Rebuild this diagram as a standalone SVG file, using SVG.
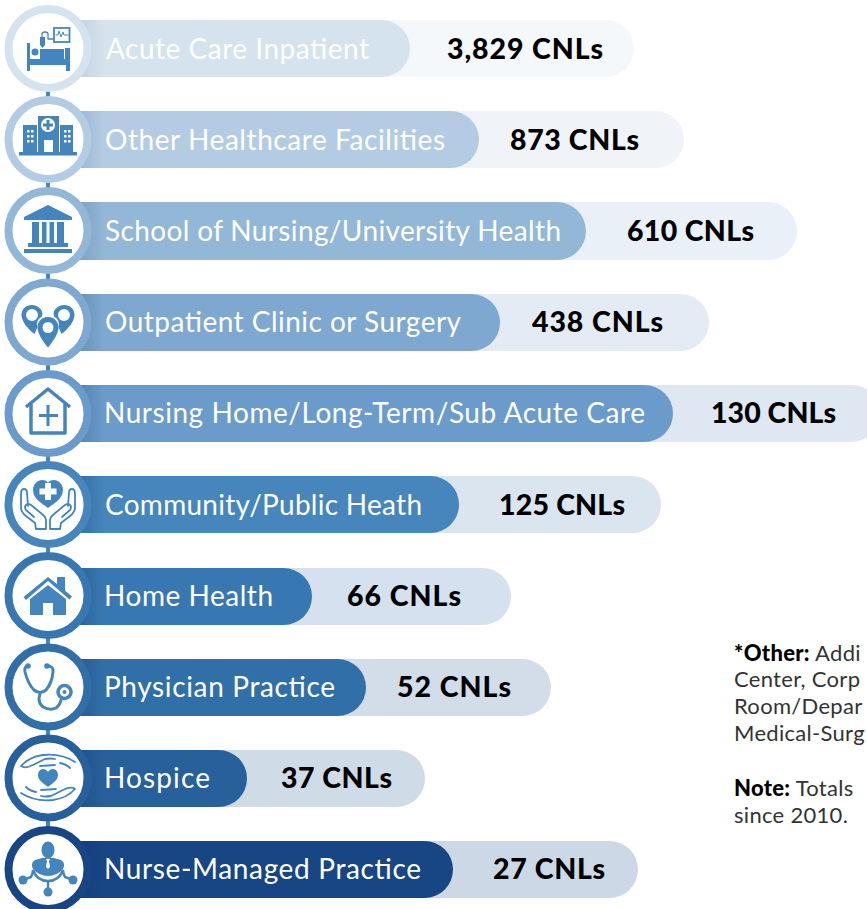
<svg xmlns="http://www.w3.org/2000/svg" width="867" height="909" viewBox="0 0 867 909">
<style>
text{font-family:"Lato","Liberation Sans",sans-serif}
.l{font-size:28px;fill:#fff}
.v{font-size:28.500px;font-weight:900;fill:#000}
.n{font-size:22px;fill:#333;letter-spacing:.3px}
.i{fill:#4585bd}
.o{fill:none;stroke:#4585bd;stroke-width:2.4;stroke-linecap:round;stroke-linejoin:round}
.w{fill:#fff}
.ring{fill:#fff;stroke-width:8}
.sh{fill:url(#s)}
</style>
<defs>
<linearGradient id="s"><stop offset="0" stop-color="#0b2a55" stop-opacity=".25"/><stop offset="1" stop-color="#0b2a55" stop-opacity="0"/></linearGradient>
</defs>
<rect width="867" height="909" fill="#fff"/>
<g id="connectors" fill="#4585bd">
<rect x="46" y="90" width="4" height="8"/><rect x="46" y="181" width="4" height="8"/><rect x="46" y="272" width="4" height="8"/><rect x="46" y="363" width="4" height="8"/><rect x="46" y="455" width="4" height="8"/><rect x="46" y="546" width="4" height="8"/><rect x="46" y="637" width="4" height="8"/><rect x="46" y="728" width="4" height="8"/><rect x="46" y="820" width="4" height="8"/>
</g>
<g id="n1">
<rect x="50" y="20" width="584" height="57" rx="28.500" fill="#f5f8fb"/><path d="M70 20H381.500a28.500 28.500 0 0 1 0 57H70z" fill="#d5e3ef"/><rect x="80" y="20" width="24" height="57" class="sh" opacity=".35"/>
<circle cx="48" cy="48.500" r="39.500" class="ring" stroke="#d5e3ef"/>
<path class="i" d="M27 43h3v16h35V48h5v23h-4v-6H30v6h-3z"/><circle class="i" cx="35" cy="52" r="3.500"/><rect class="i" x="40" y="49" width="24" height="10"/><path class="i" d="M40 37h5v8l-2.500 3-2.500-3z"/><path class="o" style="stroke-width:1.300" d="M42 37v-3q0-2 3-2t3 2v5h5"/><rect x="54" y="28" width="15.500" height="14" fill="none" stroke="#4585bd" stroke-width="1.800"/><path class="o" style="stroke-width:1" d="M56 35h2l1-4 2 6 2-5 1 3h4"/>
<text class="l" x="106" y="59" textLength="263">Acute Care Inpatient</text><text class="v" x="447" y="59" textLength="156">3,829 CNLs</text>
</g>
<g id="n2">
<rect x="50" y="111" width="634" height="57" rx="28.500" fill="#f0f4f9"/><path d="M70 111H450.500a28.500 28.500 0 0 1 0 57H70z" fill="#b3cce3"/><rect x="80" y="111" width="24" height="57" class="sh" opacity=".5"/>
<circle cx="48" cy="139.500" r="39.500" class="ring" stroke="#b3cce3"/>
<path class="i" d="M19 152h58v3.500H19zM23 125h14v27H23zM60 125h13v27H60zM38 116h21v36H38z"/><circle cx="48" cy="125" r="7" class="w"/><path class="i" d="M46.500 120h3v3.500H53v3h-3.500V130h-3v-3.500H43v-3h3.500z"/><rect x="44" y="140" width="9" height="12" class="w"/>
<path class="w" d="M27 130h2.500v2.500H27zM31 130h2.500v2.500H31zM27 135h2.500v2.500H27zM31 135h2.500v2.500H31zM27 140h2.500v2.500H27zM31 140h2.500v2.500H31zM64 130h2.500v2.500H64zM68 130h2.500v2.500H68zM64 135h2.500v2.500H64zM68 135h2.500v2.500H68zM64 140h2.500v2.500H64zM68 140h2.500v2.500H68z"/>
<text class="l" x="105" y="150" textLength="340">Other Healthcare Facilities</text><text class="v" x="510" y="150" textLength="129">873 CNLs</text>
</g>
<g id="n3">
<rect x="50" y="202" width="747" height="58" rx="29" fill="#e9f0f7"/><path d="M70 202H557a29 29 0 0 1 0 58H70z" fill="#93b7d7"/><rect x="80" y="202" width="24" height="58" class="sh" opacity=".6"/>
<circle cx="48" cy="230.500" r="39.500" class="ring" stroke="#93b7d7"/>
<path class="i" d="M48 205l24 12v3H24v-3zM32 222h7v24h-7zM42 222h4.500v24H42zM49.500 222h4.500v24h-4.500zM57 222h7v24h-7zM28 243h40v4H28zM24 249h48v4H24z"/>
<text class="l" x="105" y="241" textLength="456">School of Nursing/University Health</text><text class="v" x="627" y="241" textLength="127">610 CNLs</text>
</g>
<g id="n4">
<rect x="50" y="294" width="659" height="57" rx="28.500" fill="#e3ebf4"/><path d="M70 294H471.500a28.500 28.500 0 0 1 0 57H70z" fill="#7ea8cf"/><rect x="80" y="294" width="24" height="57" class="sh" opacity=".7"/>
<circle cx="48" cy="322" r="39.500" class="ring" stroke="#7ea8cf"/>
<path class="i" fill-rule="evenodd" d="M32 305c-6 0-10.500 4-10.500 10 0 6 6 14 13 19l3-7c-1-4 0-8 4-10l1-3c0-5-5.500-9-10.500-9zm0 4a6 6 0 1 1 0 12 6 6 0 0 1 0-12zM64 305c6 0 10.500 4 10.500 10 0 6-6 14-13 19l-3-7c1-4 0-8-4-10l-1-3c0-5 5.500-9 10.500-9zm0 4a6 6 0 1 0 0 12 6 6 0 0 0 0-12z"/>
<path class="i" fill-rule="evenodd" d="M48 317c-6.500 0-10.500 5-10.500 10.500 0 6 6 15 10.500 20 4.500-5 10.500-14 10.500-20 0-5.500-4-10.500-10.500-10.500zm0 5a5.500 5.500 0 1 1 0 11 5.500 5.500 0 0 1 0-11z"/>
<text class="l" x="105" y="332" textLength="356">Outpatient Clinic or Surgery</text><text class="v" x="532" y="332" textLength="131">438 CNLs</text>
</g>
<g id="n5">
<rect x="50" y="385" width="830" height="57" rx="28.500" fill="#dfe8f2"/><path d="M70 385H644.500a28.500 28.500 0 0 1 0 57H70z" fill="#6a9bca"/><rect x="80" y="385" width="24" height="57" class="sh" opacity=".8"/>
<circle cx="48" cy="413.500" r="39.500" class="ring" stroke="#6a9bca"/>
<path fill="none" stroke="#4585bd" stroke-width="3.500" stroke-linejoin="round" d="M26 407l22-18 22 18M31 403v30h34v-30"/><path class="i" d="M46.500 405h3v9H58v3h-8.500v9h-3v-9H39v-3h7.500z"/>
<text class="l" x="104" y="423" textLength="541">Nursing Home/Long-Term/Sub Acute Care</text><text class="v" x="711" y="423" textLength="125">130 CNLs</text>
</g>
<g id="n6">
<rect x="50" y="476" width="611" height="57" rx="28.500" fill="#dbe5f0"/><path d="M70 476H430.500a28.500 28.500 0 0 1 0 57H70z" fill="#4686bd"/><rect x="80" y="476" width="24" height="57" class="sh"/>
<circle cx="48" cy="504.500" r="39.500" class="ring" stroke="#4686bd"/>
<path class="i" d="M48 509c-7-5-15-10-15-18 0-6 5-10 9-10 3 0 5 1 6 3 1-2 3-3 6-3 4 0 9 4 9 10 0 8-8 13-15 18z" transform="translate(0 -1)"/><path class="w" d="M45 483h6v5.500h5.500v6H51v5.500h-6v-5.500h-5.500v-6H45z"/>
<path class="o" style="stroke-width:1.800" d="M36 529l-1-6-9-7q-5-4-5-8v-14q0-5 3-5t3 4l1 13M46 529v-8q0-4-4-7l-11-9q-3-2-5 0t0 5l8 7M60 529l1-6 9-7q5-4 5-8v-14q0-5-3-5t-3 4l-1 13M50 529v-8q0-4 4-7l11-9q3-2 5 0t0 5l-8 7M36 529h10M50 529h10"/>
<text class="l" x="105" y="515" textLength="317">Community/Public Heath</text><text class="v" x="499" y="515" textLength="126">125 CNLs</text>
</g>
<g id="n7">
<rect x="50" y="568" width="461" height="57" rx="28.500" fill="#d5e1ee"/><path d="M70 568H283.500a28.500 28.500 0 0 1 0 57H70z" fill="#3878b2"/><rect x="80" y="568" width="24" height="57" class="sh"/>
<circle cx="48" cy="595.500" r="39.500" class="ring" stroke="#3878b2"/>
<path class="i" d="M23.500 597l24.500-20 9 7v-7h8v13.500l7 6-2.500 3L48 581l-22 19z"/><path class="i" d="M48 585l-18 14v16h13v-12h10v12h13v-16z"/>
<text class="l" x="104" y="606" textLength="169">Home Health</text><text class="v" x="347" y="606" textLength="114">66 CNLs</text>
</g>
<g id="n8">
<rect x="50" y="659" width="501" height="57" rx="28.500" fill="#d2dde9"/><path d="M70 659H337.500a28.500 28.500 0 0 1 0 57H70z" fill="#316fa9"/><rect x="80" y="659" width="24" height="57" class="sh"/>
<circle cx="48" cy="687" r="39.500" class="ring" stroke="#316fa9"/>
<path fill="none" stroke="#4585bd" stroke-width="3" stroke-linecap="round" d="M28 666q-4 0-3 6 3 12 9 18 6 5 12 0 6-7 7-18 1-6-6-6M40 694q-3 8 3 13 7 4 13 1 4-3 5-8"/><circle cx="28" cy="666" r="2.800" class="i"/><circle cx="47" cy="666" r="2.800" class="i"/><circle cx="64.500" cy="692" r="6.500" fill="#fff" stroke="#4585bd" stroke-width="3.500"/><circle cx="64.500" cy="692" r="2" class="i"/>
<text class="l" x="104" y="697" textLength="231">Physician Practice</text><text class="v" x="397" y="697" textLength="114">52 CNLs</text>
</g>
<g id="n9">
<rect x="50" y="750" width="375" height="57" rx="28.500" fill="#d0dbe8"/><path d="M70 750H218.500a28.500 28.500 0 0 1 0 57H70z" fill="#28609c"/><rect x="80" y="750" width="24" height="57" class="sh"/>
<circle cx="48" cy="778" r="39.500" class="ring" stroke="#28609c"/>
<path class="i" d="M48 787c-5-4-10-7-10-12 0-3 2-6 5-6 2 0 4 1 5 3 1-2 3-3 5-3 3 0 5 3 5 6 0 5-5 8-10 12z"/>
<path class="o" style="stroke-width:1.800" d="M21 766q8-9 22-11 18-2 32 7M21 766q4 3 12-1l12-6q6-1 10 0M40 766l15-1M60 763q6 1 10 5M75 789q-8 9-22 11-18 2-32-7M75 789q-4-3-12 1l-12 6q-6 1-10 0M56 789l-15 1M36 792q-6-1-10-5"/>
<text class="l" x="104" y="788" textLength="106">Hospice</text><text class="v" x="281" y="788" textLength="111">37 CNLs</text>
</g>
<g id="n10">
<rect x="50" y="841" width="588" height="57" rx="28.500" fill="#cdd8e6"/><path d="M70 841H424.500a28.500 28.500 0 0 1 0 57H70z" fill="#184684"/><rect x="80" y="841" width="24" height="57" class="sh"/>
<circle cx="48" cy="869.500" r="39.500" class="ring" stroke="#184684"/>
<ellipse class="i" cx="48" cy="850" rx="6.500" ry="8.500"/><path class="i" d="M42 858h12l7 2q5 3 2 9-6 7-15 7t-15-7q-3-6 2-9z"/><path class="w" d="M46 859h4l-1 2 1 6-2 2-2-2 1-6z"/>
<path fill="none" stroke="#4585bd" stroke-width="2.500" d="M23 880l8-3q2-4 2-7 4 11 15 11t15-11q0 3 2 7l8 3M48 881v12"/>
<circle class="i" cx="23" cy="880" r="4.500"/><circle class="i" cx="73" cy="880" r="4.500"/><circle class="i" cx="48" cy="892" r="4.500"/>
<text class="l" x="104" y="879" textLength="317">Nurse-Managed Practice</text><text class="v" x="493" y="879" textLength="112">27 CNLs</text>
</g>
<g id="notes">
<text class="n" x="734" y="661"><tspan font-weight="900" fill="#000">*Other:</tspan> Addi</text>
<text class="n" x="734" y="687">Center, Corp</text>
<text class="n" x="734" y="714">Room/Depar</text>
<text class="n" x="734" y="741">Medical-Surg</text>
<text class="n" x="734" y="796"><tspan font-weight="900" fill="#000">Note:</tspan> Totals</text>
<text class="n" x="734" y="823">since 2010.</text>
</g>
</svg>
